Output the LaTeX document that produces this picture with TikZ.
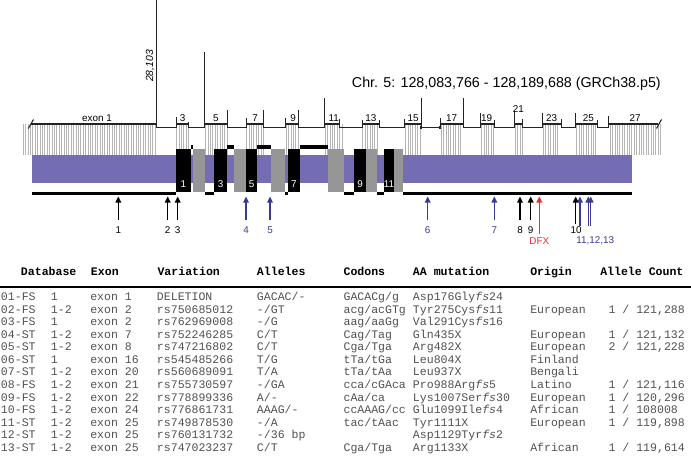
\documentclass[tikz,border=0pt]{standalone}
\usepackage{fontspec}
\setmainfont{Liberation Sans}
\setsansfont{Liberation Sans}
\newfontfamily\tabfont{Liberation Mono}
\usetikzlibrary{arrows.meta, positioning, calc}
\definecolor{geneLine}{RGB}{35,35,35}
\definecolor{hatchGray}{RGB}{180,180,180}
\definecolor{proteinPurple}{RGB}{116,109,180}
\definecolor{domainGray}{RGB}{150,150,150}
\definecolor{mutBlue}{RGB}{58,58,150}
\definecolor{mutRed}{RGB}{232,45,45}
\definecolor{tableText}{RGB}{80,80,80}
\newcounter{mutrow}
\newcommand{\tabrow}[9]{%
    \stepcounter{mutrow}%
    \pgfmathsetmacro{\rowy}{300.6+12.55*(\themutrow-1)}%
    \node[cell] (r\themutrow-db) at (0.7,\rowy) {#1};
    \node[cell] (r\themutrow-gt) at (50.7,\rowy) {#2};
    \node[cell] (r\themutrow-exon) at (90,\rowy) {#3};
    \node[cell] (r\themutrow-var) at (156.7,\rowy) {#4};
    \node[cell] (r\themutrow-all) at (256.7,\rowy) {#5};
    \node[cell] (r\themutrow-cod) at (343.3,\rowy) {#6};
    \node[cell] (r\themutrow-aa) at (412.7,\rowy) {#7};
    \node[cell] (r\themutrow-org) at (530,\rowy) {#8};
    \node[cell] (r\themutrow-cnt) at (608.3,\rowy) {#9};
}
\tikzset{
    exonline/.style={draw=geneLine, line width=0.8pt},
    tickline/.style={draw=geneLine, line width=0.65pt},
    hatchline/.style={draw=hatchGray, line width=0.45pt},
    blackbox/.style={fill=black},
    graybox/.style={fill=domainGray},
    linkbar/.style={fill=black},
    exonlabel/.style={font=\fontsize{7.4}{8}\selectfont, inner sep=0pt, anchor=base},
    boxlabel/.style={font=\fontsize{7.4}{8}\selectfont, text=white, inner sep=0pt},
    mutlabel/.style={font=\fontsize{7.4}{8}\selectfont, inner sep=0pt},
    mutarrow/.style={-{Triangle[length=4.5pt, width=4.2pt]}, line width=0.9pt, shorten <=4.5pt},
    cell/.style={font=\tabfont\fontsize{8.66}{10}\selectfont, text=tableText, inner sep=0pt, anchor=base west},
    headcell/.style={font=\tabfont\bfseries\fontsize{8.66}{10}\selectfont, inner sep=0pt, anchor=base west}
}

\begin{document}
\begin{tikzpicture}[x=0.75pt, y=-0.75pt]
    \useasboundingbox (0,0) rectangle (691,461);

    \foreach \a/\b in {23/156, 176.5/189, 205.5/227.5, 246.5/263.5, 286/298.5, 325/342, 362.7/378.5, 405.5/421, 441/462, 481.5/493.5, 515/522.5, 543.3/560, 576.5/597, 610/662} {
        \pgfmathtruncatemacro{\nlines}{(\b-\a)/2.4}
        \foreach \i in {0,...,\nlines}
            \draw[hatchline] ({\a+2.4*\i},124) -- ({\a+2.4*\i},155);
    }

    \foreach \a/\b in {31/156, 176/188.3, 204.3/227.7, 246/263.3, 285/298.3, 324.3/339, 362.7/379.3, 404.7/421, 440/463.3, 480.7/494, 514.3/522, 542.7/561, 575.7/597.7, 608.3/658}
        \draw[exonline] (\a,124) -- (\b,124);
    \foreach \a/\b in {156/176, 188.3/204.3, 227.7/246, 263.3/285, 298.3/324.3, 339/362.7, 379.3/404.7, 421/440, 463.3/480.7, 494/514.3, 522/542.7, 561/575.7, 597.7/608.3}
        \draw[exonline] (\a,127.5) -- (\b,127.5);
    \foreach \x/\top in {156/0, 176/116.7, 188.3/121.5, 204.3/51.7, 227.7/110, 246/118, 263.3/110, 285/118, 298.3/110, 324.3/98.3, 339/119, 362.7/119.5, 379.3/120, 404.7/118.5, 421/98.3, 440/118, 463.3/98.3, 480.7/113.3, 494/120, 514.3/111, 522/119.3, 542.7/112.7, 561/119.3, 575.7/113.3, 597.7/120, 608.3/116}
        \draw[tickline] (\x,127.5) -- (\x,\top);
    \draw[exonline] (28.3,128.5) -- (33.5,119.5);
    \draw[exonline] (656.5,128.5) -- (661.5,119.5);
    \fill[geneLine] (419.8,126.2) rectangle (422.2,128.8);
    \fill[geneLine] (438.8,126.2) rectangle (441.2,128.8);

    \node[exonlabel] (exon1) at (97,121.7) {exon 1};
    \foreach \n/\x in {3/182.5, 5/215.8, 7/255, 9/293, 11/333.8, 13/370.8, 15/413, 17/451.7, 19/486.7, 23/551.7, 25/588.3, 27/635}
        \node[exonlabel] (exon\n) at (\x,121.7) {\n};
    \node[exonlabel] (exon21) at (518.3,112.7) {21};
    \node[rotate=90, anchor=south, inner sep=0.5pt, font=\itshape\fontsize{7.8}{8}\selectfont] (intronlen) at (155.3,66) {28,103};
    \node[anchor=base west, inner sep=0pt, font=\fontsize{10.7}{12}\selectfont] (chrpos) at (351.7,87.3) {Chr. 5: 128,083,766 - 128,189,688 (GRCh38.p5)};

    \fill[proteinPurple] (32,155) rectangle (632,183.3);
    \foreach \a/\b in {32/176, 205/214, 285/287.7, 344/354, 377.3/384, 402.7/632}
        \fill[linkbar] (\a,191.7) rectangle (\b,195);
    \foreach \a/\b in {190.7/192.7, 227.3/234, 257.3/270.7, 300/328.3}
        \fill[linkbar] (\a,145) rectangle (\b,148.5);
    \foreach \a/\b in {192.7/205, 234/245.7, 270.7/285, 328.3/344, 366/377.3, 394/402.7}
        \fill[graybox] (\a,148.5) rectangle (\b,191.7);
    \foreach \a/\b/\n in {176/190.7/1, 214/227.3/3, 245.7/257.3/5, 287.7/300/7, 354/366/9, 384/394/11} {
        \fill[blackbox] (\a,148.5) rectangle (\b,191.7);
        \node[boxlabel] (dom\n) at ({(\a+\b)/2},184.5) {\n};
    }

    \foreach \n/\x in {1/118.3, 2/167.7, 3/177.7, 4/246, 5/270, 6/427.7, 7/494.3, 8/520, 9/530.7, 10/575.7, 11/580, 12/588.3, 13/590.7, dfx/539.3}
        \coordinate (tip\n) at (\x,196.5);
    \node[mutlabel] (m1) at (118.3,230) {1};
    \node[mutlabel] (m2) at (167.7,230) {2};
    \node[mutlabel] (m3) at (177.7,230) {3};
    \node[mutlabel, text=mutBlue] (m4) at (246,230) {4};
    \node[mutlabel, text=mutBlue] (m5) at (270,230) {5};
    \node[mutlabel, text=mutBlue] (m6) at (427.7,230) {6};
    \node[mutlabel, text=mutBlue] (m7) at (494.3,230) {7};
    \node[mutlabel] (m8) at (520,230) {8};
    \node[mutlabel] (m9) at (530.7,230) {9};
    \node[mutlabel] (m10) at (576.2,230) {10};
    \node[mutlabel, text=mutRed] (mdfx) at (539.3,240.8) {DFX};
    \node[mutlabel, text=mutBlue] (m1113) at (595.3,240.8) {11,12,13};
    \foreach \n in {1,2,3,8,9}
        \draw[mutarrow, draw=black] (m\n) -- (tip\n);
    \foreach \n in {4,5,6,7}
        \draw[mutarrow, draw=mutBlue] (m\n) -- (tip\n);
    \draw[mutarrow, draw=black, shorten <=1.7pt] (tip10 |- m10.north) -- (tip10);
    \draw[mutarrow, draw=mutRed, shorten <=2.5pt] (mdfx) -- (tipdfx);
    \foreach \n in {11,12,13}
        \draw[mutarrow, draw=mutBlue, shorten <=8pt] (tip\n |- m1113.north) -- (tip\n);

    \node[headcell] (hdb) at (20.7,275) {Database};
    \node[headcell] (hexon) at (90.7,275) {Exon};
    \node[headcell] (hvar) at (157.3,275) {Variation};
    \node[headcell] (hall) at (256.7,275) {Alleles};
    \node[headcell] (hcod) at (343.3,275) {Codons};
    \node[headcell] (haa) at (412.7,275) {AA mutation};
    \node[headcell] (horg) at (530,275) {Origin};
    \node[headcell] (hcnt) at (600,275) {Allele Count};
    \draw[line width=1.9pt] (0,287) -- (691,287);

    \tabrow{01-FS}{1}{exon 1}{DELETION}{GACAC/-}{GACACg/g}{Asp176Gly\textit{fs}24}{}{}
    \tabrow{02-FS}{1-2}{exon 2}{rs750685012}{-/GT}{acg/acGTg}{Tyr275Cys\textit{fs}11}{European}{1 / 121,288}
    \tabrow{03-FS}{1}{exon 2}{rs762969008}{-/G}{aag/aaGg}{Val291Cys\textit{fs}16}{}{}
    \tabrow{04-ST}{1-2}{exon 7}{rs752246285}{C/T}{Cag/Tag}{Gln435X}{European}{1 / 121,132}
    \tabrow{05-ST}{1-2}{exon 8}{rs747216802}{C/T}{Cga/Tga}{Arg482X}{European}{2 / 121,228}
    \tabrow{06-ST}{1}{exon 16}{rs545485266}{T/G}{tTa/tGa}{Leu804X}{Finland}{}
    \tabrow{07-ST}{1-2}{exon 20}{rs560689091}{T/A}{tTa/tAa}{Leu937X}{Bengali}{}
    \tabrow{08-FS}{1-2}{exon 21}{rs755730597}{-/GA}{cca/cGAca}{Pro988Arg\textit{fs}5}{Latino}{1 / 121,116}
    \tabrow{09-FS}{1-2}{exon 22}{rs778899336}{A/-}{cAa/ca}{Lys1007Ser\textit{fs}30}{European}{1 / 120,296}
    \tabrow{10-FS}{1-2}{exon 24}{rs776861731}{AAAG/-}{ccAAAG/cc}{Glu1099Ile\textit{fs}4}{African}{1 / 108008}
    \tabrow{11-ST}{1-2}{exon 25}{rs749878530}{-/A}{tac/tAac}{Tyr1111X}{European}{1 / 119,898}
    \tabrow{12-ST}{1-2}{exon 25}{rs760131732}{-/36 bp}{}{Asp1129Tyr\textit{fs}2}{}{}
    \tabrow{13-ST}{1-2}{exon 25}{rs747023237}{C/T}{Cga/Tga}{Arg1133X}{African}{1 / 119,614}
\end{tikzpicture}
\end{document}
